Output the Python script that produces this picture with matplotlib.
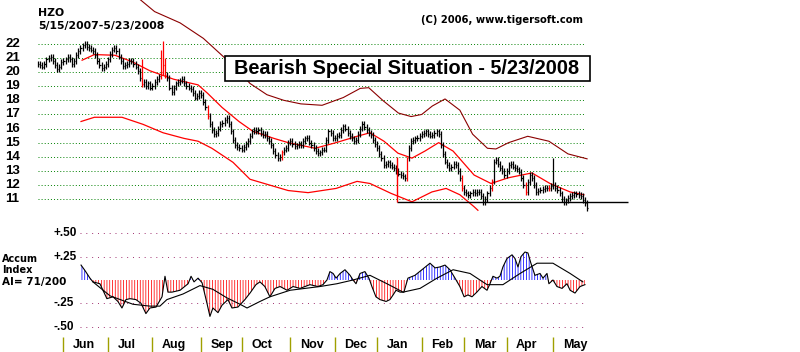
import numpy as np
import matplotlib
matplotlib.use("Agg")
import matplotlib.pyplot as plt
from matplotlib.patches import Rectangle
from matplotlib.transforms import blended_transform_factory

plt.rcParams['font.family'] = ['Liberation Sans', 'DejaVu Sans']
plt.rcParams['hatch.linewidth'] = 0.55
WIDE = ['DejaVu Sans']        # wide-digit face for the small header texts

# daily closes, 5/15/2007 .. 5/23/2008 (260 trading days)
closes = [
    20.6, 20.5, 20.4, 20.6, 20.9, 21.0, 21.1, 20.8, 20.5, 20.2,
    20.4, 20.7, 20.8, 20.9, 21.1, 20.9, 20.6, 20.8, 21.2, 21.5,
    21.7, 21.9, 22.0, 21.8, 21.7, 21.6, 21.5, 21.2, 20.8, 20.5,
    20.3, 20.4, 20.6, 20.9, 21.3, 21.6, 21.7, 21.5, 21.1, 20.8,
    20.45, 20.5, 20.6, 20.8, 20.8, 20.6, 20.4, 20.1, 19.6, 19.15,
    19.3, 19.0, 19.2, 18.9, 19.0, 19.3, 19.5, 19.7, 20.0, 20.5,
    19.8, 19.6, 18.9, 18.6, 18.9, 19.2, 19.3, 19.4, 19.5, 19.2,
    19.0, 18.9, 18.8, 18.5, 18.2, 18.3, 18.5, 18.4, 17.9, 17.5,
    16.9, 16.3, 15.9, 15.6, 15.7, 16.0, 16.3, 16.4, 16.6, 16.75,
    16.3, 15.8, 15.2, 14.85, 14.7, 14.6, 14.5, 14.7, 14.9, 15.1,
    15.5, 15.8, 15.9, 15.8, 15.9, 15.7, 15.55, 15.6, 15.3, 15.1,
    14.8, 14.4, 14.1, 13.9, 14.0, 14.3, 14.5, 14.6, 15.0, 15.1,
    14.9, 14.75, 14.8, 14.9, 14.85, 15.1, 15.3, 15.35, 15.0, 14.85,
    14.6, 14.4, 14.25, 14.3, 14.5, 14.5, 15.2, 15.8, 15.7, 15.35,
    15.3, 15.5, 15.55, 15.9, 16.15, 16.0, 15.7, 15.45, 15.3, 15.1,
    15.2, 15.6, 16.0, 16.3, 16.1, 15.9, 15.7, 15.55, 15.2, 14.9,
    14.6, 14.2, 13.9, 13.4, 13.5, 13.6, 13.4, 13.3, 13.2, 13.0,
    12.8, 12.7, 12.6, 12.5, 13.9, 14.6, 15.1, 15.2, 15.3, 15.35,
    15.5, 15.6, 15.7, 15.8, 15.6, 15.5, 15.55, 15.7, 15.8, 15.6,
    14.85, 14.2, 13.65, 13.4, 13.2, 13.3, 13.5, 13.4, 13.0, 12.5,
    11.8, 11.5, 11.4, 11.3, 11.4, 11.5, 11.4, 11.5, 11.5, 11.2,
    10.8, 11.0, 11.4, 11.8, 12.25, 13.65, 13.8, 13.5, 13.2, 13.0,
    12.7, 13.0, 13.4, 13.5, 13.3, 13.2, 13.1, 12.95, 12.5, 12.0,
    11.5, 12.2, 12.7, 12.5, 12.0, 11.5, 11.6, 11.65, 11.7, 11.8,
    11.75, 11.8, 11.9, 12.0, 11.8, 11.65, 11.4, 11.0, 10.8, 10.9,
    11.05, 11.2, 11.3, 11.4, 11.35, 11.3, 11.2, 10.95, 10.7, 10.35,
]
spike_highs = {49: 20.9, 58: 21.6, 59: 22.2, 60: 21.0, 174: 14.0, 243: 13.9}
red_bars = [49, 58, 59, 60, 80, 115, 174, 200, 214, 230, 241]

# bands / moving average: (day index, price)
upper_i = [47, 55, 67, 78, 86, 94, 100, 108, 116, 124, 134, 144, 152, 156, 163,
           170, 176, 181, 186, 192, 199, 205, 212, 216, 222, 231, 241, 250, 259]
upper_v = [25.3, 24.3, 23.5, 22.4, 21.3, 20.2, 19.2, 18.4, 18.0, 17.75, 17.65, 18.2,
           18.85, 18.9, 17.95, 17.1, 16.85, 17.0, 17.6, 18.1, 17.3, 15.6, 14.6, 14.55,
           15.0, 15.45, 15.1, 14.2, 13.85]
ma_i = [20.8, 26.6, 36.3, 44.3, 52.8, 64, 75.5, 80, 86.8, 94.8, 101.4, 111.3, 118,
        130.7, 140.6, 150.5, 156.6, 163.2, 169.8, 176.4, 182.5, 189, 195.8, 205.7,
        213.7, 221.7, 233, 241.5, 251, 257.5]
ma_v = [20.85, 21.25, 21.2, 20.75, 20.1, 19.5, 19.1, 18.5, 17.5, 16.5, 15.8, 15.3,
        15.0, 14.6, 15.0, 15.45, 15.7, 15.1, 14.25, 13.9, 14.4, 15.0, 14.4, 12.7,
        12.1, 12.5, 12.85, 12.1, 11.5, 11.3]
lower_i = [20.3, 26.6, 39.6, 49.5, 59, 68.9, 75.5, 82, 92, 100, 109, 118, 127.4,
           140.6, 150.5, 156.6, 166.5, 176.4, 185.8, 192.5, 199, 205.7, 207.5]
lower_v = [16.5, 16.8, 16.8, 16.3, 15.7, 15.3, 15.1, 14.6, 13.6, 12.4, 12.0, 11.6,
           11.45, 11.75, 12.25, 12.1, 11.4, 10.8, 11.5, 11.75, 11.3, 10.45, 10.2]

# accumulation index: (day index, value)
ai_i = [20.3, 22.2, 24.5, 25.9, 29.2, 32.5, 35.4, 37.7, 39.6, 41.5, 43.4, 46.2,
        48.6, 50.9, 52.8, 55.7, 58.5, 59.9, 61.3, 63.2, 67, 70.8, 72.2, 73.6, 75.5,
        77.4, 79.7, 81.1, 82.5, 84.9, 86.8, 89.6, 91.5, 94.3, 97.6, 100, 102.8,
        104.7, 107, 109.4, 111.8, 114.2, 117.5, 120.3, 123.6, 128.3, 132, 134.4,
        136.3, 137.7, 139.2, 140.6, 142.5, 144.8, 147.2, 148.6, 150, 151.9, 154.2,
        156.1, 157.5, 159.4, 161.3, 164.2, 166, 167.5, 168.9, 170.8, 172.6, 174.5,
        177.8, 181.1, 184.9, 187.3, 189.6, 192, 194.3, 196.7, 199, 201, 202.8,
        204.7, 207, 209.4, 211.8, 213.2, 214.6, 216.5, 217.9, 219.3, 221.2, 223.6,
        225, 226.4, 227.8, 229.7, 231.1, 232.5, 234.4, 236.8, 238.2, 240.1, 241,
        242.9, 244.8, 247.2, 249.5, 251, 253.3, 255.7, 258]
ai_v = [0.16, 0.10, 0.02, -0.02, -0.04, -0.20, -0.18, -0.23, -0.30, -0.21, -0.20,
        -0.21, -0.25, -0.36, -0.30, -0.29, -0.18, 0.04, -0.13, -0.13, -0.11, -0.04,
        0.04, -0.02, 0.02, -0.03, -0.25, -0.39, -0.30, -0.35, -0.27, -0.21, -0.30,
        -0.29, -0.21, -0.14, -0.05, -0.02, -0.07, -0.18, -0.09, -0.07, -0.11, -0.07,
        -0.09, -0.05, -0.07, -0.05, 0.0, 0.09, 0.07, 0.02, 0.07, 0.11, 0.05, 0.0,
        -0.04, 0.07, 0.09, 0.02, -0.07, -0.18, -0.21, -0.23, -0.21, -0.16, -0.11,
        -0.13, -0.13, 0.02, 0.05, 0.11, 0.18, 0.13, 0.14, 0.16, 0.11, 0.02, -0.07,
        -0.18, -0.16, -0.18, -0.13, -0.07, -0.11, -0.04, 0.04, 0.02, 0.04, 0.14,
        0.23, 0.27, 0.23, 0.14, 0.25, 0.30, 0.29, 0.18, 0.05, 0.07, 0.02, 0.07,
        -0.04, 0.0, -0.07, -0.09, -0.04, -0.11, -0.14, -0.07, -0.05]
ai_ma_i = [25.9, 34, 44.8, 52.8, 57.5, 60.8, 68.4, 76.4, 82.5, 89, 95.3, 98.6,
           104.7, 109.4, 118.9, 133, 141, 148.6, 156.6, 164.6, 172.2, 180.2, 188.2,
           195.8, 203.8, 211.8, 219.3, 227.4, 235.4, 242.9, 251, 257]
ai_ma_v = [-0.02, -0.17, -0.26, -0.28, -0.28, -0.21, -0.15, -0.06, -0.10, -0.19,
           -0.26, -0.30, -0.23, -0.18, -0.11, -0.07, -0.04, 0.0, 0.05, -0.04, -0.13,
           -0.09, 0.02, 0.11, 0.07, -0.05, -0.05, 0.07, 0.18, 0.18, 0.07, -0.02]

price_levels = [22, 21, 20, 19, 18, 17, 16, 15, 14, 13, 12, 11]
ai_levels = [0.50, 0.25, -0.25, -0.50]
ai_labels = ["+.50", "+.25", "-.25", "-.50"]
month_starts = [12, 33, 54, 77, 96, 119, 140, 160, 181, 201, 221, 243]
month_names = ["Jun", "Jul", "Aug", "Sep", "Oct", "Nov", "Dec", "Jan", "Feb", "Mar", "Apr", "May"]
support_level = 10.78

W, H = 800, 352
X0, PXD = 38, 2.12            # pixel of day 0, pixels per day
XL = (-X0 / PXD, (W - X0) / PXD)

fig = plt.figure(figsize=(W / 100, H / 100), dpi=100, facecolor="white")
ax = fig.add_axes([0, 137 / H, 1, 215 / H])
ax.set_xlim(XL)
ax.set_ylim(22 - 171 / 14.09, 22 + 44 / 14.09)
ax.axis("off")

ax2 = fig.add_axes([0, 0, 1, 132 / H])
ax2.set_xlim(XL)
ax2.set_ylim(-72 / 93.3, 60 / 93.3)
ax2.axis("off")

# price grid
ax.hlines(price_levels, 0, (585 - X0) / PXD, colors="#008000",
          linestyles=(0, (1, 2.2)), linewidth=0.7)
ty = blended_transform_factory(fig.transFigure, ax.transData)
for lv in price_levels:
    ax.text(5 / W, lv, str(lv), transform=ty, fontsize=9.5, fontweight="bold",
            ha="left", va="center")

# bands
ax.plot(upper_i, upper_v, color="#8b0000", lw=0.8, clip_on=False)
ax.plot(ma_i, ma_v, color="#ff0000", lw=0.9)
ax.plot(lower_i, lower_v, color="#ff0000", lw=0.9)

# price bars
c = np.array(closes)
days = np.arange(len(c))
prev = np.r_[c[0], c[:-1]]
hi = np.maximum(c, prev) + 0.2
lo = np.minimum(c, prev) - 0.2
for k, v in spike_highs.items():
    hi[k] = v
cols = np.array(["black"] * len(c), dtype=object)
cols[red_bars] = "#ff0000"
ax.vlines(days, lo, hi, colors=list(cols), linewidth=0.9)
ax.hlines(c, days, days + 0.55, colors=list(cols), linewidth=0.9)

# support line annotation
ax.hlines(support_level, 169.5, (628 - X0) / PXD, colors="black", linewidth=1)
ax.vlines(169.5, support_level, 14.0, colors="#ff0000", linewidth=1)

# accumulation index
ai_x = np.array(ai_i)
ai_y = np.array(ai_v)
ax2.hlines(ai_levels, (80 - X0) / PXD, (585 - X0) / PXD, colors="#a03070",
           linestyles=(0, (1, 5)), linewidth=0.7)
ax2.fill_between(ai_x, ai_y, 0, where=ai_y <= 0, interpolate=True,
                 facecolor="none", edgecolor="#ff0000", hatch="||||||", linewidth=0)
ax2.fill_between(ai_x, ai_y, 0, where=ai_y >= 0, interpolate=True,
                 facecolor="none", edgecolor="#0000ff", hatch="||||||", linewidth=0)
ax2.plot(ai_x, ai_y, color="black", lw=0.8)
ax2.plot(ai_ma_i, ai_ma_v, color="black", lw=0.8)
ty2 = blended_transform_factory(fig.transFigure, ax2.transData)
for lv, lb in zip(ai_levels, ai_labels):
    ax2.text(53 / W, lv, lb, transform=ty2, fontsize=8.5, fontweight="bold",
             ha="left", va="center")

# month axis
ax2.vlines(month_starts, -0.61, -0.77, colors="#a0a000", linewidth=1, clip_on=False)
for m, nm in zip(month_starts, month_names):
    ax2.text(m + 4.5, -0.70, nm, fontsize=9, fontweight="bold", ha="left", va="center")

# texts
fig.text(38 / W, 1 - 12.5 / H, "HZO", fontsize=7.8, fontweight="bold",
         family=WIDE, va="center")
fig.text(38 / W, 1 - 25.5 / H, "5/15/2007-5/23/2008", fontsize=7.8, fontweight="bold",
         family=WIDE, va="center")
fig.text(583 / W, 1 - 20 / H, "(C) 2006, www.tigersoft.com", fontsize=7.2,
         fontweight="bold", family=WIDE, ha="right", va="center")
fig.text(2 / W, 1 - 258.5 / H, "Accum", fontsize=7, fontweight="bold",
         family=WIDE, va="center")
fig.text(2 / W, 1 - 270 / H, "Index", fontsize=7, fontweight="bold",
         family=WIDE, va="center")
fig.text(2 / W, 1 - 281.5 / H, "AI= 71/200", fontsize=7.5, fontweight="bold",
         family=WIDE, va="center")

fig.patches.append(Rectangle((225 / W, 1 - 81 / H), 365 / W, 25 / H,
                             transform=fig.transFigure, facecolor="white",
                             edgecolor="black", linewidth=1.2, zorder=3))
fig.text(407 / W, 1 - 68.5 / H, "Bearish Special Situation - 5/23/2008",
         fontsize=14.3, fontweight="bold", ha="center", va="center", zorder=4)

fig.savefig("out.png", dpi=100, facecolor="white")
